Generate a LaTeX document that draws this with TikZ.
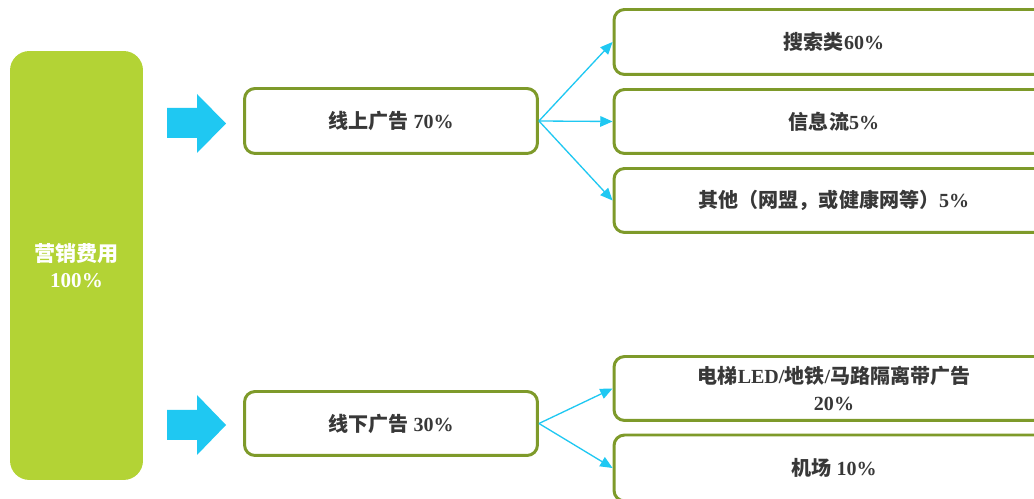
\documentclass[tikz,border=0pt]{standalone}
\usepackage{fontspec}
\setmainfont{Liberation Serif}
\newfontfamily\cjkf{Noto Sans CJK SC}
\newcommand\zhs[1]{{\cjkf #1}}
\usetikzlibrary{arrows.meta}
\definecolor{lime}{HTML}{B3D335}
\definecolor{olive}{HTML}{7E9A2A}
\definecolor{cyanA}{HTML}{1FC8F2}
\definecolor{txt}{HTML}{383838}
\tikzset{
  box/.style={draw=olive, line width=1.7pt, rounded corners=6pt, fill=white,
    text=txt, font=\fontsize{11.4}{15.4}\selectfont\bfseries, align=center, inner sep=0pt},
  conn/.style={draw=cyanA, line width=0.75pt, -{Triangle[length=7pt,width=6pt]}},
  blockarrow/.style={fill=cyanA, draw=none}
}
\begin{document}
\begin{tikzpicture}[x=0.02cm,y=-0.02cm]
\clip (0,0) rectangle (1034,499);
\fill[white] (0,0) rectangle (1034,499);
% main green box
\node[fill=lime, rounded corners=11pt, minimum width=2.66cm, minimum height=8.58cm,
  text=white, font=\fontsize{12}{15}\selectfont\bfseries, align=center, inner sep=0pt]
  (main) at (76.5,265.5) {\zhs{营销费用}\\100\%};
% block arrows
\fill[blockarrow] (167,108) -- (197,108) -- (197,94) -- (226,123.5) -- (197,153) -- (197,138) -- (167,138) -- cycle;
\fill[blockarrow] (167,410) -- (197,410) -- (197,395) -- (226,425) -- (197,455) -- (197,440) -- (167,440) -- cycle;
% middle boxes
\node[box, minimum width=5.86cm, minimum height=1.30cm] (on) at (391,121) {\zhs{线上广告} 70\%};
\node[box, minimum width=5.86cm, minimum height=1.28cm] (off) at (391,423.5) {\zhs{线下广告} 30\%};
% right boxes
\node[box, minimum width=8.80cm, minimum height=1.30cm] (r1) at (834,42) {\zhs{搜索类}60\%};
\node[box, minimum width=8.80cm, minimum height=1.28cm] (r2) at (834,121.5) {\zhs{信息流}5\%};
\node[box, minimum width=8.80cm, minimum height=1.28cm] (r3) at (834,200.5) {\zhs{其他（网盟，或健康网等）}5\%};
\node[box, minimum width=8.80cm, minimum height=1.28cm] (r4) at (834,388.5) {\zhs{电梯}LED/\zhs{地铁}/\zhs{马路隔离带广告}\\20\%};
\node[box, minimum width=8.80cm, minimum height=1.32cm] (r5) at (834,468) {\zhs{机场} 10\%};
% connectors
\draw[conn] (on.east) -- (r1.west);
\draw[conn] (on.east) -- (r2.west);
\draw[conn] (on.east) -- (r3.west);
\draw[conn] (off.east) -- (r4.west);
\draw[conn] (off.east) -- (r5.west);
\end{tikzpicture}
\end{document}
